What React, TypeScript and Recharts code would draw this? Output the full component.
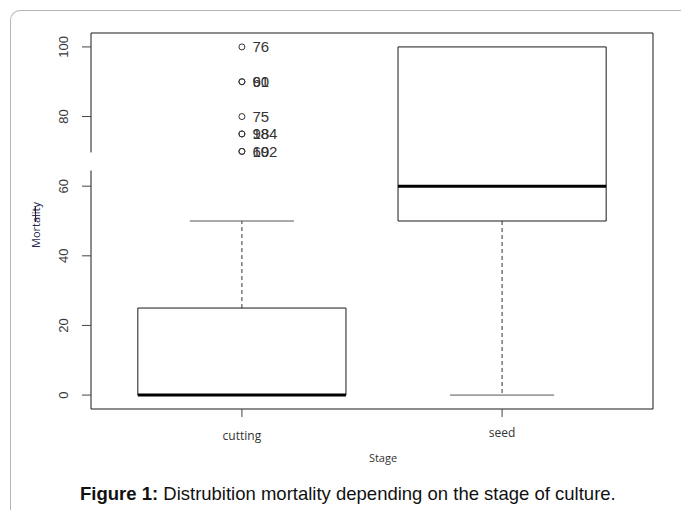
import React from 'react';
import {
  ComposedChart,
  XAxis,
  YAxis,
  Scatter,
  ReferenceArea,
  ReferenceLine,
  LabelList,
} from 'recharts';

// ---- data ----
const categories = ['cutting', 'seed'];
const positions = [1, 2];
const q1 = [0, 50];
const medians = [0, 60];
const q3 = [25, 100];
const whiskerLow = [0, 0];
const whiskerHigh = [50, 100];
const outlierValues = [100, 90, 90, 80, 75, 75, 70, 70];
const outlierLabels = ['76', '60', '91', '75', '98', '184', '69', '102'];
const outlierGroup = [0, 0, 0, 0, 0, 0, 0, 0];
const yTicks = [0, 20, 40, 60, 80, 100];
const yDomain = [-4, 104];
const xDomain = [0.42, 2.58];

const outlierData = outlierValues.map((v, i) => ({
  x: positions[outlierGroup[i]],
  y: v,
  label: outlierLabels[i],
}));

const BOX_HALF = 0.4;
const CAP_HALF = 0.2;
const LINE = '#1a1a1a';

const YTick = (props: any) => {
  const { y, payload } = props;
  const bx = 68;
  return (
    <text
      x={bx}
      y={y}
      transform={`rotate(-90, ${bx}, ${y})`}
      textAnchor="middle"
      fontSize={13}
      fill="#3a3a3a"
      fontFamily="'Liberation Sans', Arial, sans-serif"
    >
      {payload.value}
    </text>
  );
};

const xLabelDy = [21, 18];

const XTick = (props: any) => {
  const { x, y, payload, index } = props;
  const i = positions.indexOf(payload.value);
  return (
    <text
      x={x}
      y={y + (xLabelDy[i] ?? 19)}
      textAnchor="middle"
      fontSize={12}
      fill="#333"
      fontFamily="'Open Sans', sans-serif"
    >
      {categories[i >= 0 ? i : index]}
    </text>
  );
};

const OpenCircle = (props: any) => {
  const { cx, cy } = props;
  return <circle cx={cx} cy={cy} r={3} fill="none" stroke="#333" strokeWidth={1} />;
};

export default function App() {
  return (
    <div
      style={{
        position: 'absolute',
        left: 0,
        top: 0,
        width: 681,
        height: 510,
        overflow: 'hidden',
        background: '#fff',
      }}
    >
      {/* outer frame */}
      <div
        style={{
          position: 'absolute',
          left: 10,
          top: 10,
          width: 800,
          height: 600,
          borderLeft: '1px solid #b5b5b5',
          borderTop: '1px solid #b5b5b5',
          borderTopLeftRadius: 10,
        }}
      />
      <div style={{ position: 'absolute', left: 0, top: 0 }}>
        <ComposedChart
          width={681}
          height={510}
          margin={{ top: 33, right: 28, bottom: 71, left: 0 }}
          data={outlierData}
        >
          <XAxis
            type="number"
            dataKey="x"
            domain={xDomain}
            ticks={positions}
            allowDataOverflow
            axisLine={false}
            tickLine={{ stroke: '#444' }}
            tickSize={8}
            height={30}
            tick={<XTick />}
            interval={0}
          />
          <YAxis
            type="number"
            dataKey="y"
            domain={yDomain}
            ticks={yTicks}
            allowDataOverflow
            axisLine={false}
            tickLine={{ stroke: '#444' }}
            tickSize={9}
            width={91}
            tick={<YTick />}
            interval={0}
          />

          {/* plot border */}
          <ReferenceLine
            segment={[{ x: xDomain[0], y: yDomain[1] }, { x: xDomain[1], y: yDomain[1] }]}
            stroke={LINE}
            ifOverflow="visible"
          />
          <ReferenceLine
            segment={[{ x: xDomain[0], y: yDomain[0] }, { x: xDomain[1], y: yDomain[0] }]}
            stroke={LINE}
            ifOverflow="visible"
          />
          <ReferenceLine
            segment={[{ x: xDomain[1], y: yDomain[0] }, { x: xDomain[1], y: yDomain[1] }]}
            stroke={LINE}
            ifOverflow="visible"
          />
          <ReferenceLine
            segment={[{ x: xDomain[0], y: yDomain[0] }, { x: xDomain[0], y: 64.5 }]}
            stroke={LINE}
            ifOverflow="visible"
          />
          <ReferenceLine
            segment={[{ x: xDomain[0], y: 69.7 }, { x: xDomain[0], y: yDomain[1] }]}
            stroke={LINE}
            ifOverflow="visible"
          />

          {/* boxes */}
          {positions.map((p, i) => (
            <ReferenceArea
              key={`b${i}`}
              x1={p - BOX_HALF}
              x2={p + BOX_HALF}
              y1={q1[i]}
              y2={q3[i]}
              fill="#fff"
              fillOpacity={1}
              stroke={LINE}
              strokeWidth={1}
              ifOverflow="visible"
            />
          ))}

          {/* whiskers */}
          {positions.map((p, i) =>
            whiskerHigh[i] !== q3[i] ? (
              <ReferenceLine
                key={`wu${i}`}
                segment={[{ x: p, y: q3[i] }, { x: p, y: whiskerHigh[i] }]}
                stroke="#333"
                strokeDasharray="4 3"
                ifOverflow="visible"
              />
            ) : null
          )}
          {positions.map((p, i) =>
            whiskerLow[i] !== q1[i] ? (
              <ReferenceLine
                key={`wl${i}`}
                segment={[{ x: p, y: q1[i] }, { x: p, y: whiskerLow[i] }]}
                stroke="#333"
                strokeDasharray="4 3"
                ifOverflow="visible"
              />
            ) : null
          )}
          {positions.map((p, i) =>
            whiskerHigh[i] !== q3[i] ? (
              <ReferenceLine
                key={`cu${i}`}
                segment={[{ x: p - CAP_HALF, y: whiskerHigh[i] }, { x: p + CAP_HALF, y: whiskerHigh[i] }]}
                stroke="#555"
                ifOverflow="visible"
              />
            ) : null
          )}
          {positions.map((p, i) =>
            whiskerLow[i] !== q1[i] ? (
              <ReferenceLine
                key={`cl${i}`}
                segment={[{ x: p - CAP_HALF, y: whiskerLow[i] }, { x: p + CAP_HALF, y: whiskerLow[i] }]}
                stroke="#555"
                ifOverflow="visible"
              />
            ) : null
          )}

          {positions.map((p, i) => (
            <ReferenceLine
              key={`m${i}`}
              segment={[{ x: p - BOX_HALF, y: medians[i] }, { x: p + BOX_HALF, y: medians[i] }]}
              stroke="#000"
              strokeWidth={3}
              ifOverflow="visible"
            />
          ))}

          <Scatter
            data={outlierData}
            dataKey="y"
            shape={<OpenCircle />}
            isAnimationActive={false}
          >
            <LabelList
              dataKey="label"
              position="right"
              offset={6}
              style={{ fontSize: 15, fill: '#333', fontFamily: "'Liberation Sans', Arial, sans-serif" }}
            />
          </Scatter>
        </ComposedChart>
      </div>

      {/* axis titles */}
      <div
        style={{
          position: 'absolute',
          left: 35,
          top: 225,
          transform: 'translate(-50%, -50%) rotate(-90deg)',
          fontFamily: "'Open Sans', sans-serif",
          fontSize: 11,
          color: '#1f2a55',
          whiteSpace: 'nowrap',
        }}
      >
        Mortality
      </div>
      <div
        style={{
          position: 'absolute',
          left: 35,
          top: 207,
          width: 1,
          height: 15,
          background: '#222',
        }}
      />
      <div
        style={{
          position: 'absolute',
          left: 383,
          top: 457,
          transform: 'translate(-50%, -50%)',
          fontFamily: "'Open Sans', sans-serif",
          fontSize: 11,
          color: '#333',
          whiteSpace: 'nowrap',
        }}
      >
        Stage
      </div>

      {/* caption */}
      <div
        style={{
          position: 'absolute',
          left: 80,
          top: 483,
          fontFamily: "'Liberation Sans', Arial, sans-serif",
          fontSize: 18.5,
          color: '#111',
          whiteSpace: 'nowrap',
        }}
      >
        <b>Figure 1:</b> Distrubition mortality depending on the stage of culture.
      </div>
    </div>
  );
}
